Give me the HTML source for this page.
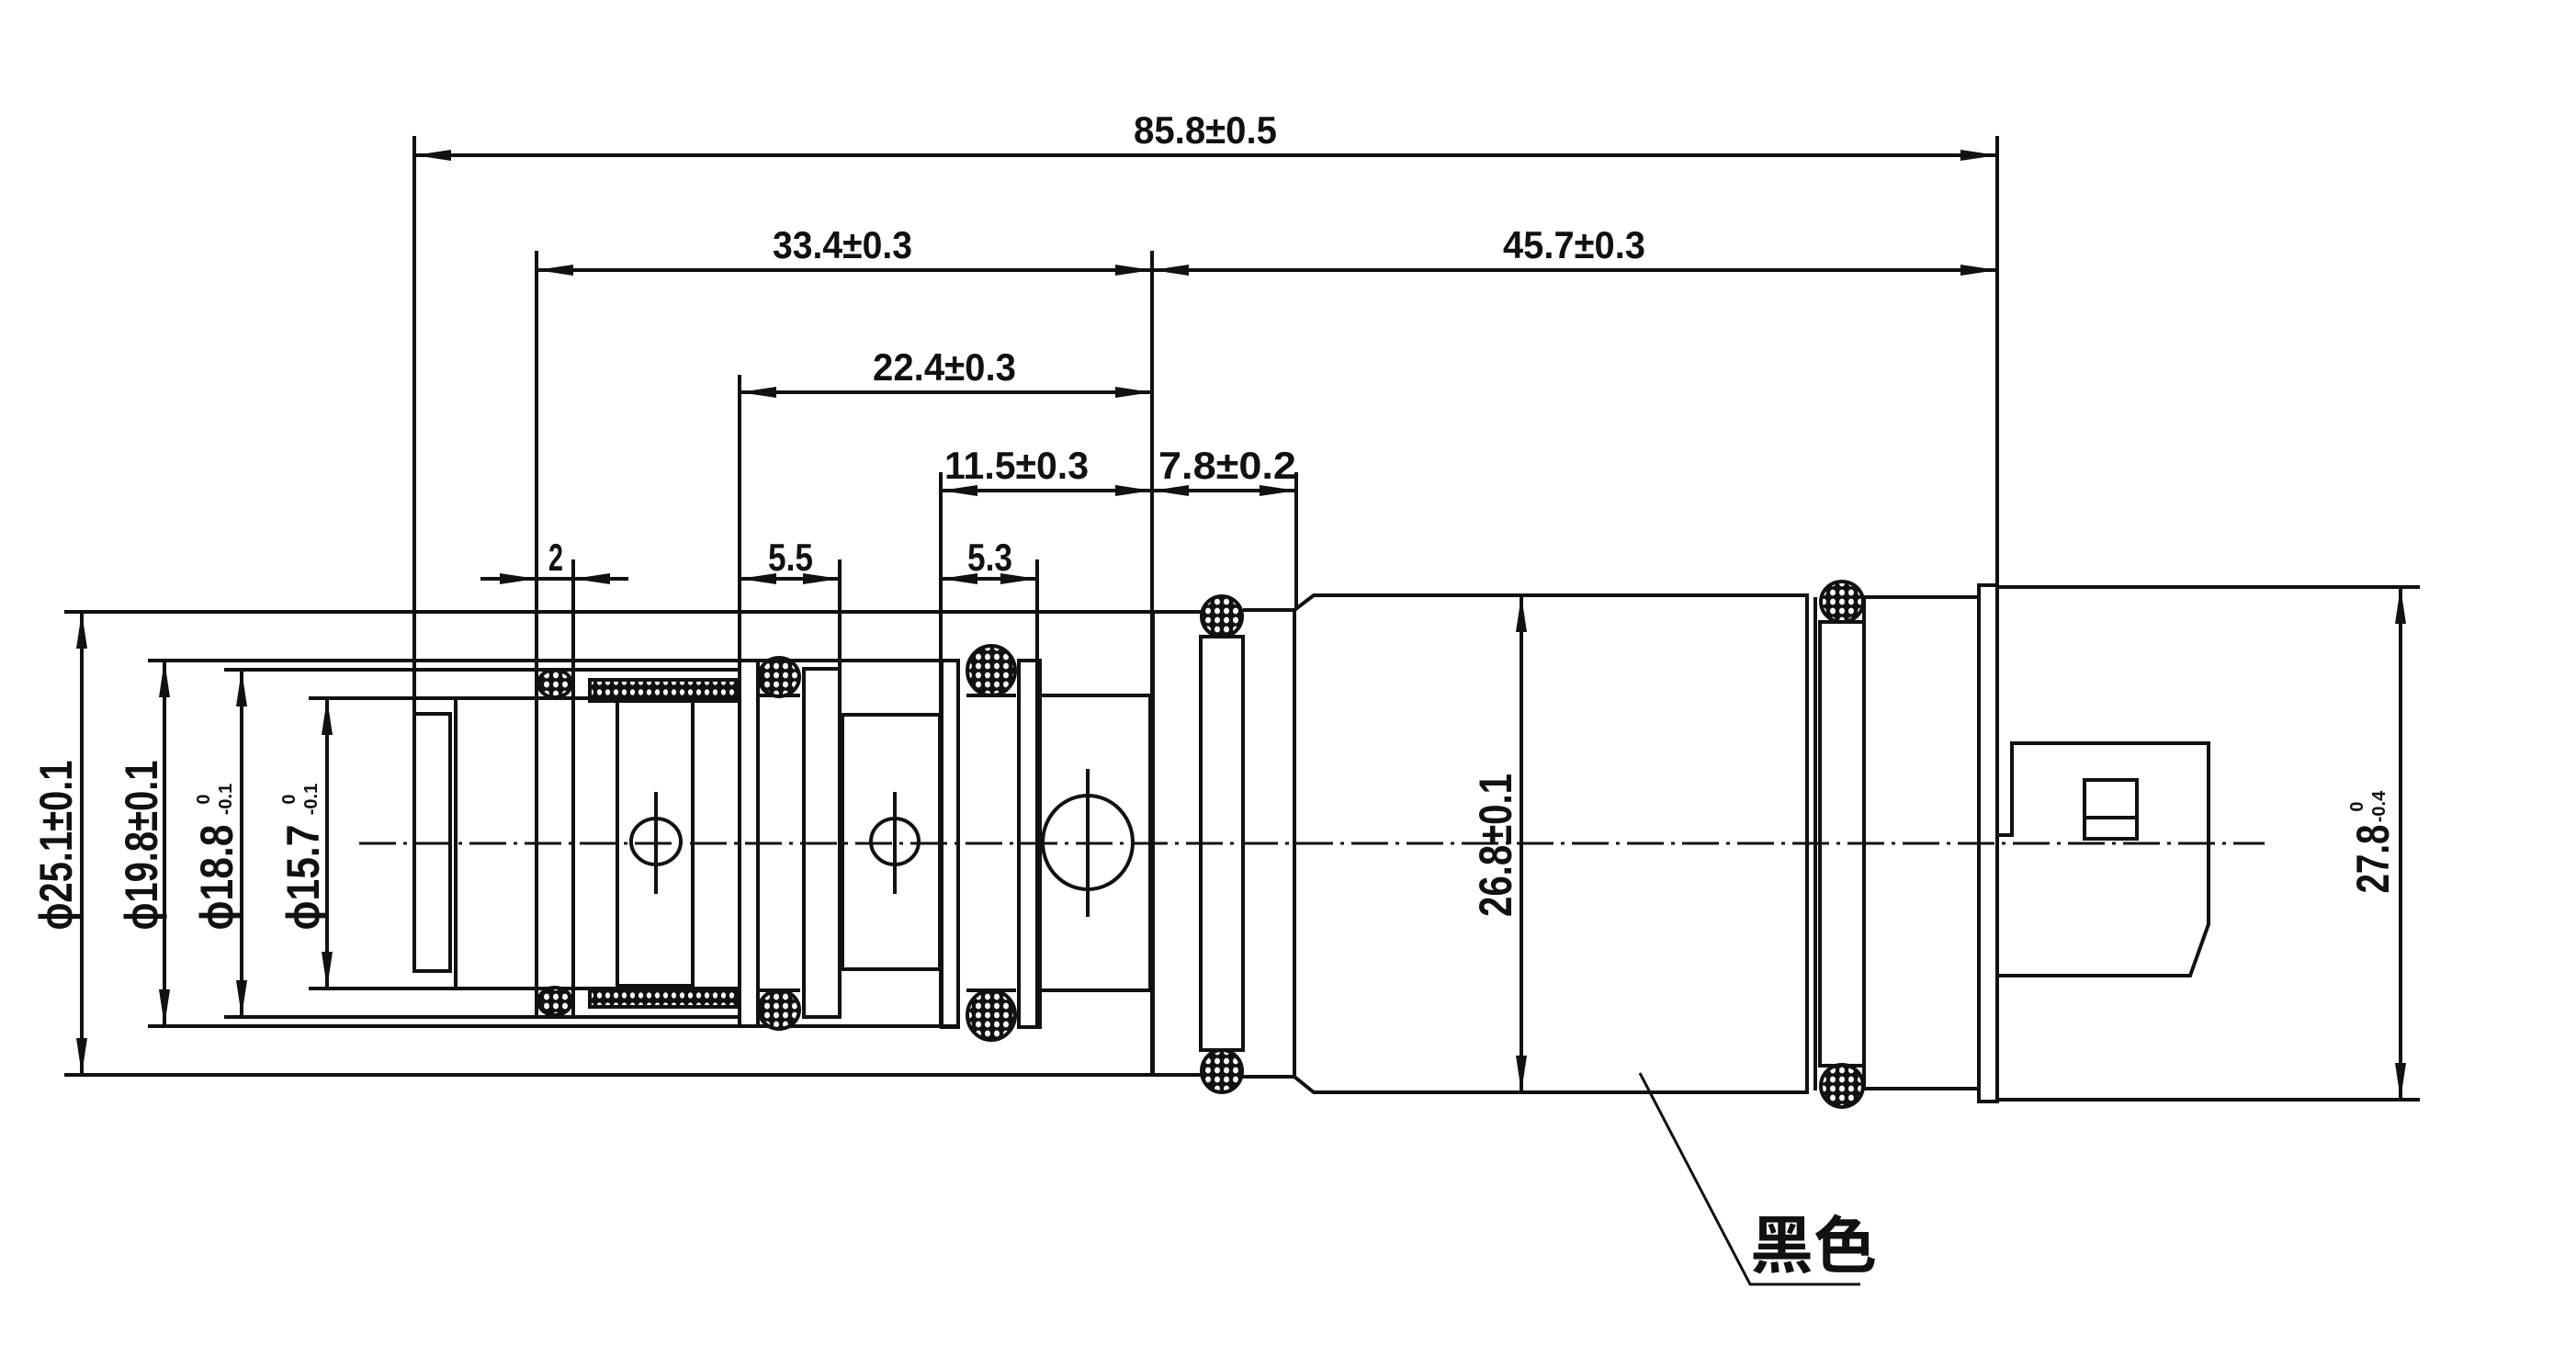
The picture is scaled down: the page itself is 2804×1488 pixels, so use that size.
<!DOCTYPE html>
<html><head><meta charset="utf-8">
<style>
html,body{margin:0;padding:0;background:#fff;}
svg{display:block;}
text{font-family:"Liberation Sans","Noto Sans CJK SC",sans-serif;font-weight:bold;fill:#111;}
</style></head>
<body>
<svg width="2804" height="1488" viewBox="0 0 2804 1488" xmlns="http://www.w3.org/2000/svg">
<defs>
<pattern id="mesh" width="10" height="10" patternUnits="userSpaceOnUse">
<rect width="10" height="10" fill="#111"/>
<ellipse cx="5" cy="5" rx="3" ry="3.4" fill="#fff"/>
</pattern>
<pattern id="mesh2" width="9" height="11" patternUnits="userSpaceOnUse">
<rect width="9" height="11" fill="#111"/>
<ellipse cx="4.5" cy="5.5" rx="2.6" ry="3.2" fill="#fff"/>
</pattern>
</defs>
<g stroke="#111" stroke-width="4" fill="none">
<!-- extension lines -->
<line x1="451" y1="148" x2="451" y2="1057"/>
<line x1="584" y1="273" x2="584" y2="1105"/>
<line x1="1254" y1="273" x2="1254" y2="1170"/>
<line x1="2174" y1="148" x2="2174" y2="1199"/>
<line x1="805" y1="408" x2="805" y2="1117"/>
<line x1="1024" y1="514" x2="1024" y2="1118"/>
<line x1="1411" y1="514" x2="1411" y2="664"/>
<line x1="624" y1="609" x2="624" y2="1105"/>
<line x1="914" y1="609" x2="914" y2="1107"/>
<line x1="1129" y1="609" x2="1129" y2="1118"/>
<!-- dim lines -->
<line x1="451" y1="169" x2="2174" y2="169"/>
<line x1="584" y1="294" x2="2174" y2="294"/>
<line x1="805" y1="427" x2="1254" y2="427"/>
<line x1="1024" y1="534" x2="1411" y2="534"/>
<line x1="523" y1="630" x2="684" y2="630"/>
<line x1="805" y1="630" x2="914" y2="630"/>
<line x1="1024" y1="630" x2="1129" y2="630"/>
<line x1="89" y1="666" x2="89" y2="1170"/>
<line x1="179" y1="719" x2="179" y2="1117"/>
<line x1="263" y1="729" x2="263" y2="1107"/>
<line x1="356" y1="760" x2="356" y2="1076"/>
<line x1="1656" y1="648" x2="1656" y2="1189"/>
<line x1="2613" y1="639" x2="2613" y2="1197"/>
<!-- outer lines -->
<line x1="70" y1="666" x2="1307" y2="666"/>
<line x1="70" y1="1170" x2="1307" y2="1170"/>
<line x1="161" y1="719" x2="1044" y2="719"/>
<line x1="161" y1="1117" x2="1044" y2="1117"/>
<line x1="244" y1="729" x2="805" y2="729"/>
<line x1="244" y1="1107" x2="805" y2="1107"/>
<line x1="336" y1="760" x2="805" y2="760"/>
<line x1="336" y1="1076" x2="805" y2="1076"/>
<!-- left rect -->
<rect x="451" y="777" width="39" height="280"/>
<line x1="496" y1="760" x2="496" y2="1076"/>
<!-- inner -->
<rect x="672" y="763" width="82" height="310"/>
<rect x="805" y="719" width="20" height="398"/>
<rect x="875" y="728" width="39" height="379"/>
<rect x="917" y="778" width="106" height="277"/>
<rect x="1025" y="719" width="18" height="399"/>
<rect x="1109" y="719" width="23" height="399"/>
<rect x="1132" y="757" width="120" height="321"/>
<line x1="825" y1="757" x2="871" y2="757"/>
<line x1="825" y1="1078" x2="871" y2="1078"/>
<line x1="1052" y1="757" x2="1106" y2="757"/>
<line x1="1052" y1="1078" x2="1106" y2="1078"/>
<!-- circles -->
<ellipse cx="714" cy="916" rx="27" ry="25"/>
<line x1="714" y1="862" x2="714" y2="973"/>
<ellipse cx="974" cy="916" rx="26" ry="25"/>
<line x1="974" y1="862" x2="974" y2="973"/>
<ellipse cx="1184" cy="917" rx="49" ry="51"/>
<line x1="1184" y1="837" x2="1184" y2="998"/>
<!-- right part -->
<line x1="1255" y1="666" x2="1255" y2="1170"/>
<rect x="1307" y="693" width="46" height="450"/>
<line x1="1353" y1="664" x2="1409" y2="664"/>
<line x1="1353" y1="1172" x2="1409" y2="1172"/>
<path d="M1409,664 L1430,648 L1967,648 L1967,1189 L1430,1189 L1409,1172 Z"/>
<line x1="1409" y1="664" x2="1409" y2="1172"/>
<line x1="1976" y1="650" x2="1976" y2="1187"/>
<rect x="1981" y="677" width="48" height="483"/>
<rect x="2029" y="650" width="125" height="535"/>
<rect x="2154" y="637" width="20" height="562"/>
<line x1="2174" y1="639" x2="2634" y2="639"/>
<line x1="2174" y1="1197" x2="2634" y2="1197"/>
<path d="M2174,909 L2190,909 L2190,809 L2404,809 L2404,1006 L2384,1062 L2174,1062"/>
<rect x="2269" y="849" width="57" height="64"/>
<line x1="2269" y1="890" x2="2326" y2="890"/>
<!-- leader -->
<polyline points="1785,1168 1905,1398 2025,1398" stroke-width="3"/>
<!-- center line -->
<line x1="391" y1="918" x2="2465" y2="918" stroke-width="3" stroke-dasharray="40 8 4 8"/>
</g>
<!-- O-rings -->
<g stroke="#111" stroke-width="4">
<rect x="642" y="740" width="160" height="23" fill="url(#mesh2)"/>
<rect x="642" y="1076" width="160" height="20" fill="url(#mesh2)"/>
<ellipse cx="604" cy="744" rx="18" ry="15" fill="url(#mesh)"/>
<ellipse cx="604" cy="1090" rx="18" ry="15" fill="url(#mesh)"/>
<ellipse cx="848" cy="737" rx="22" ry="21" fill="url(#mesh)"/>
<ellipse cx="848" cy="1099" rx="22" ry="21" fill="url(#mesh)"/>
<ellipse cx="1079" cy="730" rx="26" ry="27" fill="url(#mesh)"/>
<ellipse cx="1079" cy="1105" rx="26" ry="27" fill="url(#mesh)"/>
<ellipse cx="1330" cy="671" rx="22" ry="22" fill="url(#mesh)"/>
<ellipse cx="1330" cy="1166" rx="22" ry="23" fill="url(#mesh)"/>
<ellipse cx="2005" cy="655" rx="23" ry="22" fill="url(#mesh)"/>
<ellipse cx="2005" cy="1182" rx="23" ry="23" fill="url(#mesh)"/>
</g>
<!-- arrows -->
<g fill="#111">
<polygon points="451,169 491,163 491,175"/>
<polygon points="2174,169 2134,163 2134,175"/>
<polygon points="584,294 624,288 624,300"/>
<polygon points="1254,294 1214,288 1214,300"/>
<polygon points="1254,294 1294,288 1294,300"/>
<polygon points="2174,294 2134,288 2134,300"/>
<polygon points="805,427 845,421 845,433"/>
<polygon points="1254,427 1214,421 1214,433"/>
<polygon points="1024,534 1064,528 1064,540"/>
<polygon points="1254,534 1214,528 1214,540"/>
<polygon points="1254,534 1294,528 1294,540"/>
<polygon points="1411,534 1371,528 1371,540"/>
<polygon points="584,630 544,624 544,636"/>
<polygon points="624,630 664,624 664,636"/>
<polygon points="805,630 845,624 845,636"/>
<polygon points="914,630 874,624 874,636"/>
<polygon points="1024,630 1064,624 1064,636"/>
<polygon points="1129,630 1089,624 1089,636"/>
<polygon points="89,666 83,706 95,706"/>
<polygon points="89,1170 83,1130 95,1130"/>
<polygon points="179,719 173,759 185,759"/>
<polygon points="179,1117 173,1077 185,1077"/>
<polygon points="263,729 257,769 269,769"/>
<polygon points="263,1107 257,1067 269,1067"/>
<polygon points="356,760 350,800 362,800"/>
<polygon points="356,1076 350,1036 362,1036"/>
<polygon points="1656,648 1650,688 1662,688"/>
<polygon points="1656,1189 1650,1149 1662,1149"/>
<polygon points="2613,639 2607,679 2619,679"/>
<polygon points="2613,1197 2607,1157 2619,1157"/>
</g>
<!-- horizontal labels -->
<g font-size="42">
<text x="1234" y="156" textLength="156" lengthAdjust="spacingAndGlyphs">85.8±0.5</text>
<text x="841" y="281" textLength="152" lengthAdjust="spacingAndGlyphs">33.4±0.3</text>
<text x="1636" y="281" textLength="155" lengthAdjust="spacingAndGlyphs">45.7±0.3</text>
<text x="950" y="414" textLength="156" lengthAdjust="spacingAndGlyphs">22.4±0.3</text>
<text x="1028" y="521" textLength="157" lengthAdjust="spacingAndGlyphs">11.5±0.3</text>
<text x="1261" y="521" textLength="150" lengthAdjust="spacingAndGlyphs">7.8±0.2</text>
<text x="597" y="621" textLength="16" lengthAdjust="spacingAndGlyphs">2</text>
<text x="836" y="621" textLength="49" lengthAdjust="spacingAndGlyphs">5.5</text>
<text x="1053" y="621" textLength="49" lengthAdjust="spacingAndGlyphs">5.3</text>
</g>
<!-- vertical labels -->
<g font-size="50">
<text transform="translate(78,920) rotate(-90)" text-anchor="middle" textLength="185" lengthAdjust="spacingAndGlyphs">ϕ25.1±0.1</text>
<text transform="translate(171,920) rotate(-90)" text-anchor="middle" textLength="185" lengthAdjust="spacingAndGlyphs">ϕ19.8±0.1</text>
<text transform="translate(253,955) rotate(-90)" text-anchor="middle" textLength="115" lengthAdjust="spacingAndGlyphs">ϕ18.8</text>
<text transform="translate(347,955) rotate(-90)" text-anchor="middle" textLength="115" lengthAdjust="spacingAndGlyphs">ϕ15.7</text>
<text transform="translate(1645,920) rotate(-90)" text-anchor="middle" textLength="156" lengthAdjust="spacingAndGlyphs">26.8±0.1</text>
<text transform="translate(2600,935) rotate(-90)" text-anchor="middle" textLength="75" lengthAdjust="spacingAndGlyphs">27.8</text>
</g>
<g font-size="20">
<text transform="translate(228,870) rotate(-90)" text-anchor="middle">0</text>
<text transform="translate(252,870) rotate(-90)" text-anchor="middle">-0.1</text>
<text transform="translate(321,870) rotate(-90)" text-anchor="middle">0</text>
<text transform="translate(345,870) rotate(-90)" text-anchor="middle">-0.1</text>
<text transform="translate(2572,878) rotate(-90)" text-anchor="middle">0</text>
<text transform="translate(2596,878) rotate(-90)" text-anchor="middle">-0.4</text>
</g>
<text x="1905" y="1380" font-size="68" textLength="138" lengthAdjust="spacingAndGlyphs" style="font-family:'Noto Sans CJK SC',sans-serif;font-weight:bold">黑色</text>
</svg>
</body></html>
